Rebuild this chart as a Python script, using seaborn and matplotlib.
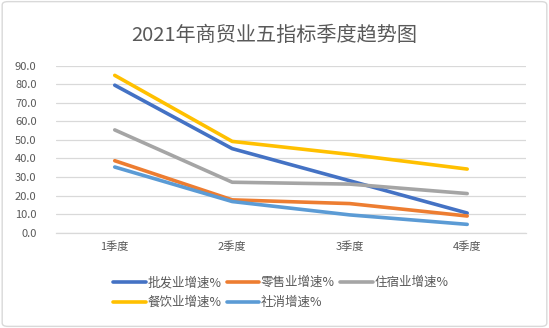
import matplotlib
matplotlib.use("Agg")
import matplotlib.pyplot as plt
import seaborn as sns
import pandas as pd
from matplotlib.patches import FancyBboxPatch

quarters = ["1季度", "2季度", "3季度", "4季度"]
series_names = ["批发业增速%", "零售业增速%", "住宿业增速%", "餐饮业增速%", "社消增速%"]
wholesale = [79.5, 45.3, 28.0, 10.6]
retail = [38.8, 17.7, 15.7, 9.0]
lodging = [55.4, 27.2, 26.2, 21.1]
catering = [84.8, 49.2, 42.2, 34.3]
social = [35.4, 16.8, 9.6, 4.5]
yticks = [0, 10, 20, 30, 40, 50, 60, 70, 80, 90]
colors = ["#4472C4", "#ED7D31", "#A5A5A5", "#FFC000", "#5B9BD5"]
title = "2021年商贸业五指标季度趋势图"

sns.set_style("white")
plt.rcParams['font.family'] = ['Noto Sans CJK SC', 'DejaVu Sans']

rows = []
for name, vals in zip(series_names, [wholesale, retail, lodging, catering, social]):
    for q, v in zip(quarters, vals):
        rows.append({"季度": q, "值": v, "指标": name})
df = pd.DataFrame(rows)

fig = plt.figure(figsize=(5.49, 3.28), dpi=100)
ax = fig.add_axes([0.102, 0.2905, 0.856, 0.5092])
sns.lineplot(data=df, x="季度", y="值", hue="指标", hue_order=series_names,
             palette=colors, linewidth=2.6, ax=ax, legend=True, sort=False)

ax.set_xlim(-0.5, 3.5)
ax.set_ylim(0, 90)
ax.set_yticks(yticks)
ax.set_yticklabels([f"{v:.1f}" for v in yticks])
ax.set_xlabel("")
ax.set_ylabel("")
ax.grid(axis="y", color="#D9D9D9", linewidth=0.9)
ax.set_axisbelow(True)
for s in ["top", "right", "left"]:
    ax.spines[s].set_visible(False)
ax.spines["bottom"].set_color("#D9D9D9")
ax.spines["bottom"].set_linewidth(0.9)
ax.tick_params(axis="y", length=0, pad=14, labelsize=8, labelcolor="#595959")
ax.tick_params(axis="x", length=0, pad=6, labelsize=8, labelcolor="#595959")

handles, labels = ax.get_legend_handles_labels()
order = [0, 3, 1, 4, 2]
ax.legend([handles[i] for i in order], [labels[i] for i in order],
          ncol=3, loc="upper left", bbox_to_anchor=(107 / 549, 1 - 270 / 328),
          bbox_transform=fig.transFigure, frameon=False, fontsize=9,
          handlelength=2.6, handletextpad=0.15, columnspacing=0.4,
          labelspacing=0.55, borderpad=0, labelcolor="#595959")

fig.text(0.5, 1 - 35 / 328, title, ha="center", va="center", fontsize=14.5, color="#595959")

border = FancyBboxPatch((0.004, 0.005), 0.992, 0.99, boxstyle="round,pad=0,rounding_size=0.01",
                        transform=fig.transFigure, fill=False, edgecolor="#D9D9D9", linewidth=1)
fig.patches.append(border)

fig.savefig("out.png", dpi=100)
